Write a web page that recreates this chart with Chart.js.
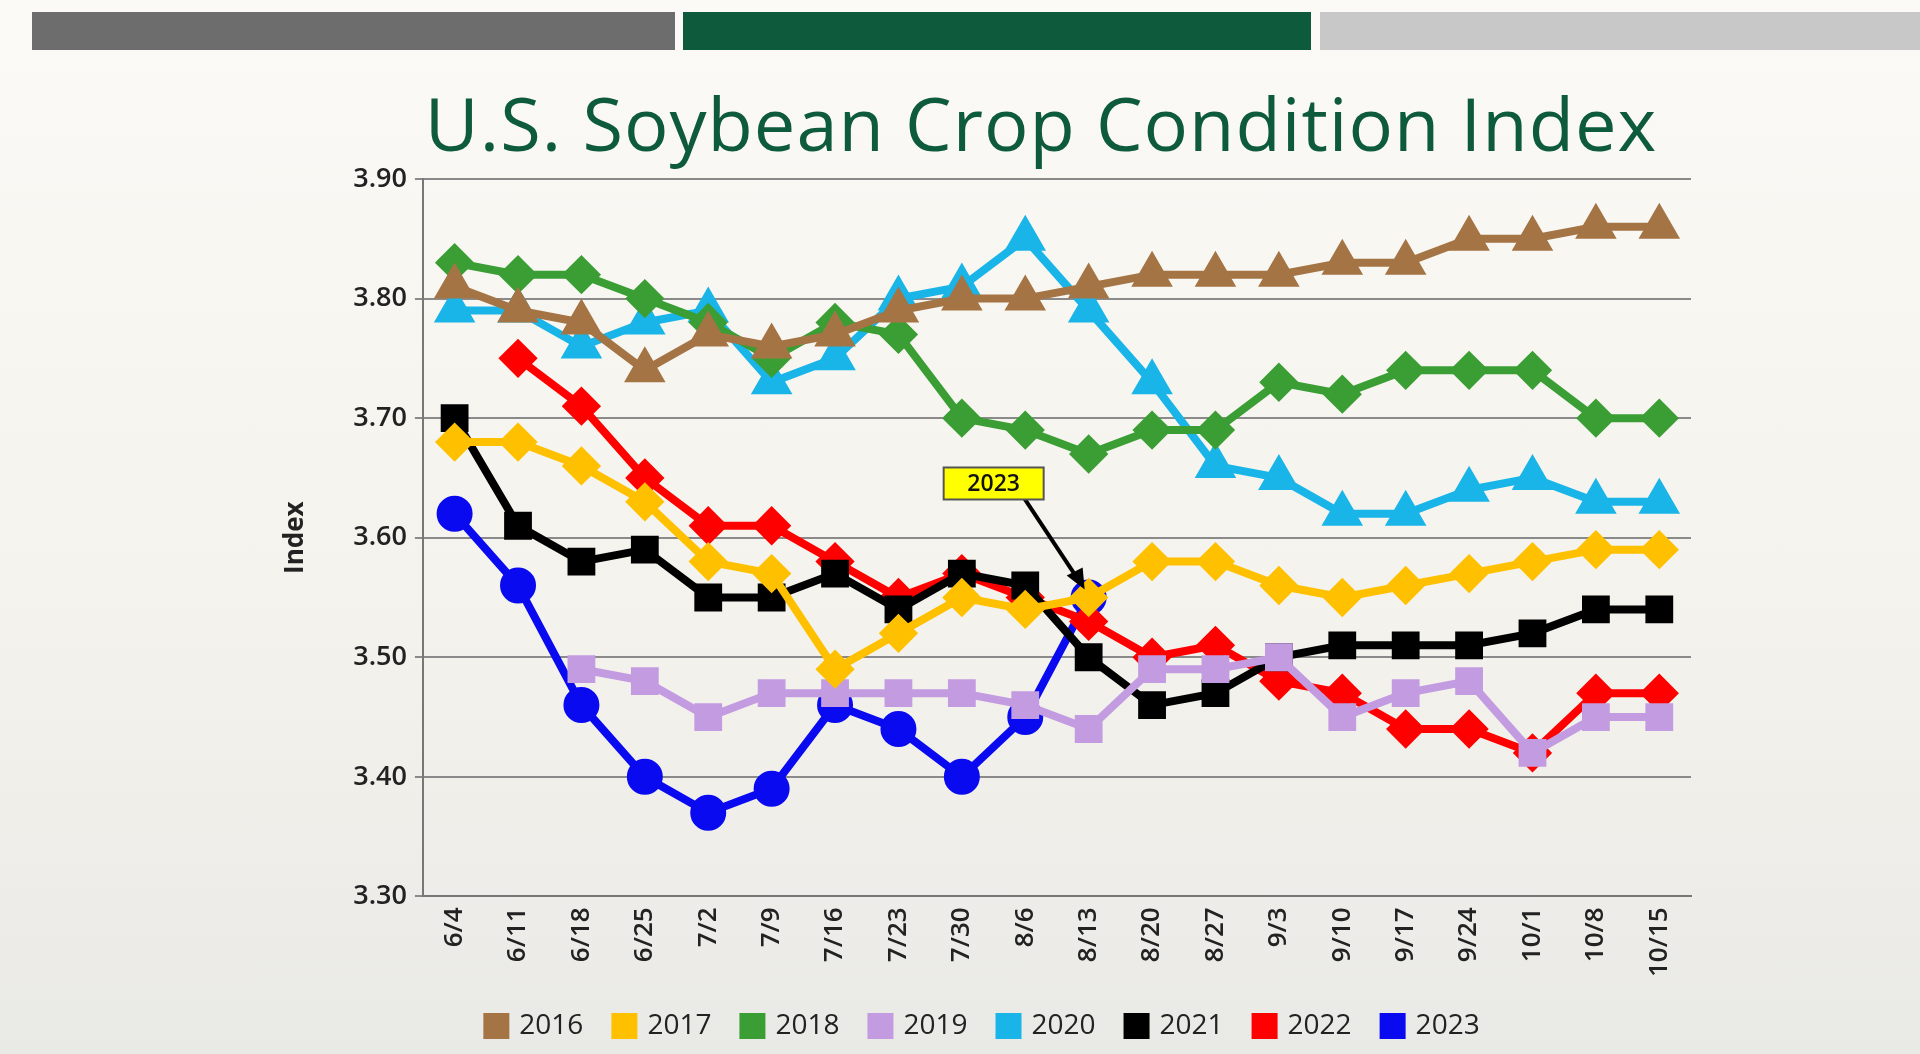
<!DOCTYPE html>
<html><head><meta charset="utf-8">
<script src="https://cdn.jsdelivr.net/npm/chart.js@4.4.1/dist/chart.umd.min.js"></script>
<style>
html,body{margin:0;padding:0;width:1920px;height:1054px;overflow:hidden;background:linear-gradient(#fbfaf6,#f4f2ec 60%,#e9e9e6);font-family:"Open Sans",sans-serif}
.bar{position:absolute;top:12px;height:38px}
#title{position:absolute;left:0;width:2082px;top:72px;text-align:center;font-size:74px;color:#0e5a3c;letter-spacing:1px}
#wrap{position:absolute;left:0;top:0;width:1920px;height:1054px}
</style></head><body>
<div class="bar" style="left:32px;width:643px;background:#6d6d6d"></div>
<div class="bar" style="left:683px;width:628px;background:#0e5a3c"></div>
<div class="bar" style="left:1320px;width:600px;background:#c8c8c8"></div>
<div id="title">U.S. Soybean Crop Condition Index</div>
<div id="wrap"><canvas id="c" width="1920" height="1054"></canvas></div>
<script>
var weeks = ['6/4','6/11','6/18','6/25','7/2','7/9','7/16','7/23','7/30','8/6','8/13','8/20','8/27','9/3','9/10','9/17','9/24','10/1','10/8','10/15'];
var y2016 = [3.81,3.79,3.78,3.74,3.77,3.76,3.77,3.79,3.80,3.80,3.81,3.82,3.82,3.82,3.83,3.83,3.85,3.85,3.86,3.86];
var y2017 = [3.68,3.68,3.66,3.63,3.58,3.57,3.49,3.52,3.55,3.54,3.55,3.58,3.58,3.56,3.55,3.56,3.57,3.58,3.59,3.59];
var y2018 = [3.83,3.82,3.82,3.80,3.78,3.75,3.78,3.77,3.70,3.69,3.67,3.69,3.69,3.73,3.72,3.74,3.74,3.74,3.70,3.70];
var y2019 = [null,null,3.49,3.48,3.45,3.47,3.47,3.47,3.47,3.46,3.44,3.49,3.49,3.50,3.45,3.47,3.48,3.42,3.45,3.45];
var y2020 = [3.79,3.79,3.76,3.78,3.79,3.73,3.75,3.80,3.81,3.85,3.79,3.73,3.66,3.65,3.62,3.62,3.64,3.65,3.63,3.63];
var y2021 = [3.70,3.61,3.58,3.59,3.55,3.55,3.57,3.54,3.57,3.56,3.50,3.46,3.47,3.50,3.51,3.51,3.51,3.52,3.54,3.54];
var y2022 = [null,3.75,3.71,3.65,3.61,3.61,3.58,3.55,3.57,3.55,3.53,3.50,3.51,3.48,3.47,3.44,3.44,3.42,3.47,3.47];
var y2023 = [3.62,3.56,3.46,3.40,3.37,3.39,3.46,3.44,3.40,3.45,3.55,null,null,null,null,null,null,null,null,null];
var yTicks = [3.30,3.40,3.50,3.60,3.70,3.80,3.90];

function ds(label, data, color, style) {
  return { label: label, data: data, borderColor: color, backgroundColor: color, borderWidth: 8, pointStyle: style, pointRadius: style === 'triangle' ? 16 : 14, pointHoverRadius: 14, tension: 0, spanGaps: false };
}

var note = {
  id: 'note',
  afterDatasetsDraw: function(chart) {
    var meta = chart.getDatasetMeta(7), pt = meta.data[10];
    var ctx = chart.ctx, bx = pt.x - 145, by = pt.y - 130;
    ctx.save();
    ctx.strokeStyle = '#000'; ctx.lineWidth = 4;
    ctx.beginPath(); ctx.moveTo(bx + 80, by + 30); ctx.lineTo(pt.x - 8, pt.y - 14); ctx.stroke();
    ctx.beginPath(); ctx.moveTo(pt.x - 4, pt.y - 8); ctx.lineTo(pt.x - 22, pt.y - 22); ctx.lineTo(pt.x - 6, pt.y - 30); ctx.closePath(); ctx.fillStyle = '#000'; ctx.fill();
    ctx.fillStyle = '#ffff00'; ctx.fillRect(bx, by, 100, 32);
    ctx.lineWidth = 2; ctx.strokeStyle = '#555'; ctx.strokeRect(bx, by, 100, 32);
    ctx.fillStyle = '#111'; ctx.font = '600 23px "Open Sans"'; ctx.textAlign = 'center'; ctx.textBaseline = 'middle';
    ctx.fillText('2023', bx + 50, by + 17);
    ctx.restore();
  }
};

new Chart(document.getElementById('c'), {
  type: 'line',
  data: { labels: weeks, datasets: [
    ds('2016', y2016, '#a57444', 'triangle'),
    ds('2017', y2017, '#ffc000', 'rectRot'),
    ds('2018', y2018, '#3a9e34', 'rectRot'),
    ds('2019', y2019, '#c39be0', 'rect'),
    ds('2020', y2020, '#19b5e8', 'triangle'),
    ds('2021', y2021, '#000000', 'rect'),
    ds('2022', y2022, '#ff0000', 'rectRot'),
    ds('2023', y2023, '#0a0af0', 'circle')
  ] },
  plugins: [note],
  options: {
    responsive: false, animation: false,
    layout: { padding: { left: 276, right: 229, top: 179, bottom: 4 } },
    plugins: {
      legend: { position: 'bottom', labels: { boxWidth: 18, boxHeight: 18, padding: 32, color: '#222', font: { size: 28, family: 'Open Sans' } } },
      tooltip: { enabled: false }
    },
    scales: {
      x: { offset: true, grid: { display: false, drawTicks: true, tickLength: 8, tickColor: '#666' }, border: { color: '#777', width: 2 },
        ticks: { maxRotation: 90, minRotation: 90, color: '#222', font: { size: 26, weight: '600', family: 'Open Sans' } } },
      y: { min: 3.30, max: 3.90, afterBuildTicks: function(a) { a.ticks = yTicks.map(function(v) { return { value: v }; }); },
        grid: { color: '#8a8a8a', lineWidth: 2, tickLength: 8 }, border: { color: '#777', width: 2 },
        title: { display: true, text: 'Index', color: '#222', font: { size: 26, weight: 'bold', family: 'Open Sans' }, padding: { bottom: 34 } },
        ticks: { color: '#222', padding: 8, font: { size: 27, weight: '600', family: 'Open Sans' }, callback: function(v) { return v.toFixed(2); } } }
    }
  }
});
</script>
</body></html>
